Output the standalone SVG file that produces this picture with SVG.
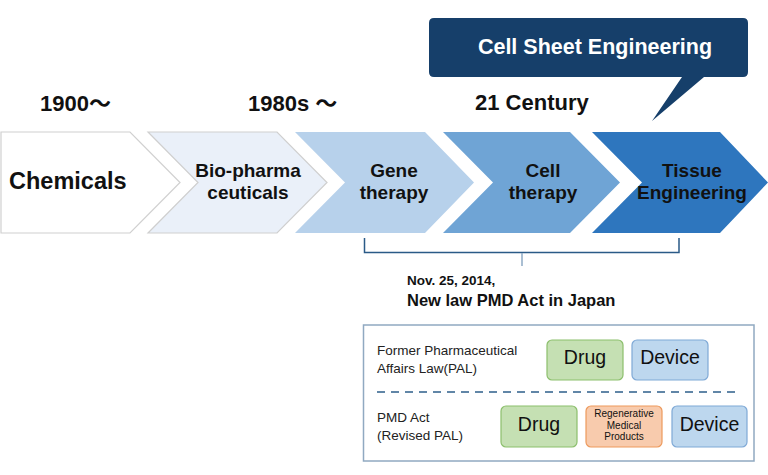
<svg xmlns="http://www.w3.org/2000/svg" width="768" height="475" viewBox="0 0 768 475">
<style>
text{font-family:"Liberation Sans",Arial,"Noto Sans CJK JP",sans-serif;fill:#111}
.b{font-weight:bold}
.era{font-size:22px;font-weight:bold}
.cl{font-size:19px;font-weight:bold;text-anchor:middle}
.law{font-size:13.5px;fill:#222}
.bx{font-size:19.5px;text-anchor:middle}
.drug{fill:#c5e0b3;stroke:#8cbf6c;stroke-width:1.2}
.dev{fill:#bdd7ee;stroke:#7fa9d6;stroke-width:1.2}
.regen{fill:#f8cbad;stroke:#ed9a5d;stroke-width:1.2}
</style>
<rect width="768" height="475" fill="#fff"/>
<g id="callout">
<path d="M434 18 H743 Q748 18 748 23 V72 Q748 77 743 77 H704 L652 121 L682 77 H434 Q429 77 429 72 V23 Q429 18 434 18 Z" fill="#163f6a"/>
<text x="595" y="54" class="b" style="font-size:21.5px;fill:#fff" text-anchor="middle">Cell Sheet Engineering</text>
</g>
<g id="eras">
<text x="40" y="111" class="era">1900～</text>
<text x="248" y="111" class="era">1980s ～</text>
<text x="475" y="110" class="era">21 Century</text>
</g>
<g id="chemicals">
<path d="M1 132 H130 L180 182.5 L130 233 H1 Z" fill="#fff" stroke="#d0d0d0" stroke-width="1.2"/>
<text x="9" y="189" class="b" style="font-size:23.5px">Chemicals</text>
</g>
<g id="biopharma">
<path d="M148 132 H277 L327 182.5 L277 233 H148 L198 182.5 Z" fill="#eaf0f9" stroke="#cfcfcf" stroke-width="1.2"/>
<text x="248" y="177" class="cl">Bio-pharma</text>
<text x="248" y="199" class="cl">ceuticals</text>
</g>
<g id="gene">
<path d="M295 132 H425 L474 182.5 L425 233 H295 L345 182.5 Z" fill="#b7d1eb"/>
<text x="394" y="177" class="cl">Gene</text>
<text x="394" y="199" class="cl">therapy</text>
</g>
<g id="cell">
<path d="M443 132 H570 L620 182.5 L570 233 H443 L493 182.5 Z" fill="#6fa4d5"/>
<text x="543" y="177" class="cl">Cell</text>
<text x="543" y="199" class="cl">therapy</text>
</g>
<g id="tissue">
<path d="M592 132 H720 L768 182.5 L720 233 H592 L642 182.5 Z" fill="#2e76be"/>
<text x="692" y="177" class="cl">Tissue</text>
<text x="692" y="199" class="cl">Engineering</text>
</g>
<g id="connectors" fill="none">
<path d="M364.5 238 V252.5 H679 V238" stroke="#2a5a87" stroke-width="1.5"/>
<path d="M522 253 V266" stroke="#8eaac4" stroke-width="1.5"/>
</g>
<g id="pmd-note">
<text x="407" y="285" class="b" style="font-size:13.5px">Nov. 25, 2014,</text>
<text x="407" y="306" class="b" style="font-size:16.5px">New law PMD Act in Japan</text>
</g>
<g id="law-box">
<rect x="363.5" y="325" width="390.5" height="136" fill="#fff" stroke="#90a9c1" stroke-width="1.5"/>
<text x="377" y="355" class="law">Former Pharmaceutical</text>
<text x="377" y="373" class="law">Affairs Law(PAL)</text>
<line x1="377" y1="392" x2="740" y2="392" stroke="#2e5f8a" stroke-width="1.3" stroke-dasharray="8 6"/>
<text x="377" y="422" class="law">PMD Act</text>
<text x="377" y="440" class="law">(Revised PAL)</text>
</g>
<g id="drug-old">
<rect x="547" y="340" width="76" height="40" rx="5" class="drug"/>
<text x="585" y="364" class="bx">Drug</text>
</g>
<g id="device-old">
<rect x="632" y="340" width="76" height="40" rx="5" class="dev"/>
<text x="670" y="364" class="bx">Device</text>
</g>
<g id="drug-new">
<rect x="501" y="406" width="76" height="41" rx="5" class="drug"/>
<text x="539" y="431" class="bx">Drug</text>
</g>
<g id="regen-new">
<rect x="586" y="406" width="76" height="41" rx="5" class="regen"/>
<text x="624" y="417" style="font-size:10px" text-anchor="middle">Regenerative</text>
<text x="624" y="429" style="font-size:10px" text-anchor="middle">Medical</text>
<text x="624" y="440" style="font-size:10px" text-anchor="middle">Products</text>
</g>
<g id="device-new">
<rect x="672" y="406" width="75" height="41" rx="5" class="dev"/>
<text x="709.5" y="431" class="bx">Device</text>
</g>
</svg>
